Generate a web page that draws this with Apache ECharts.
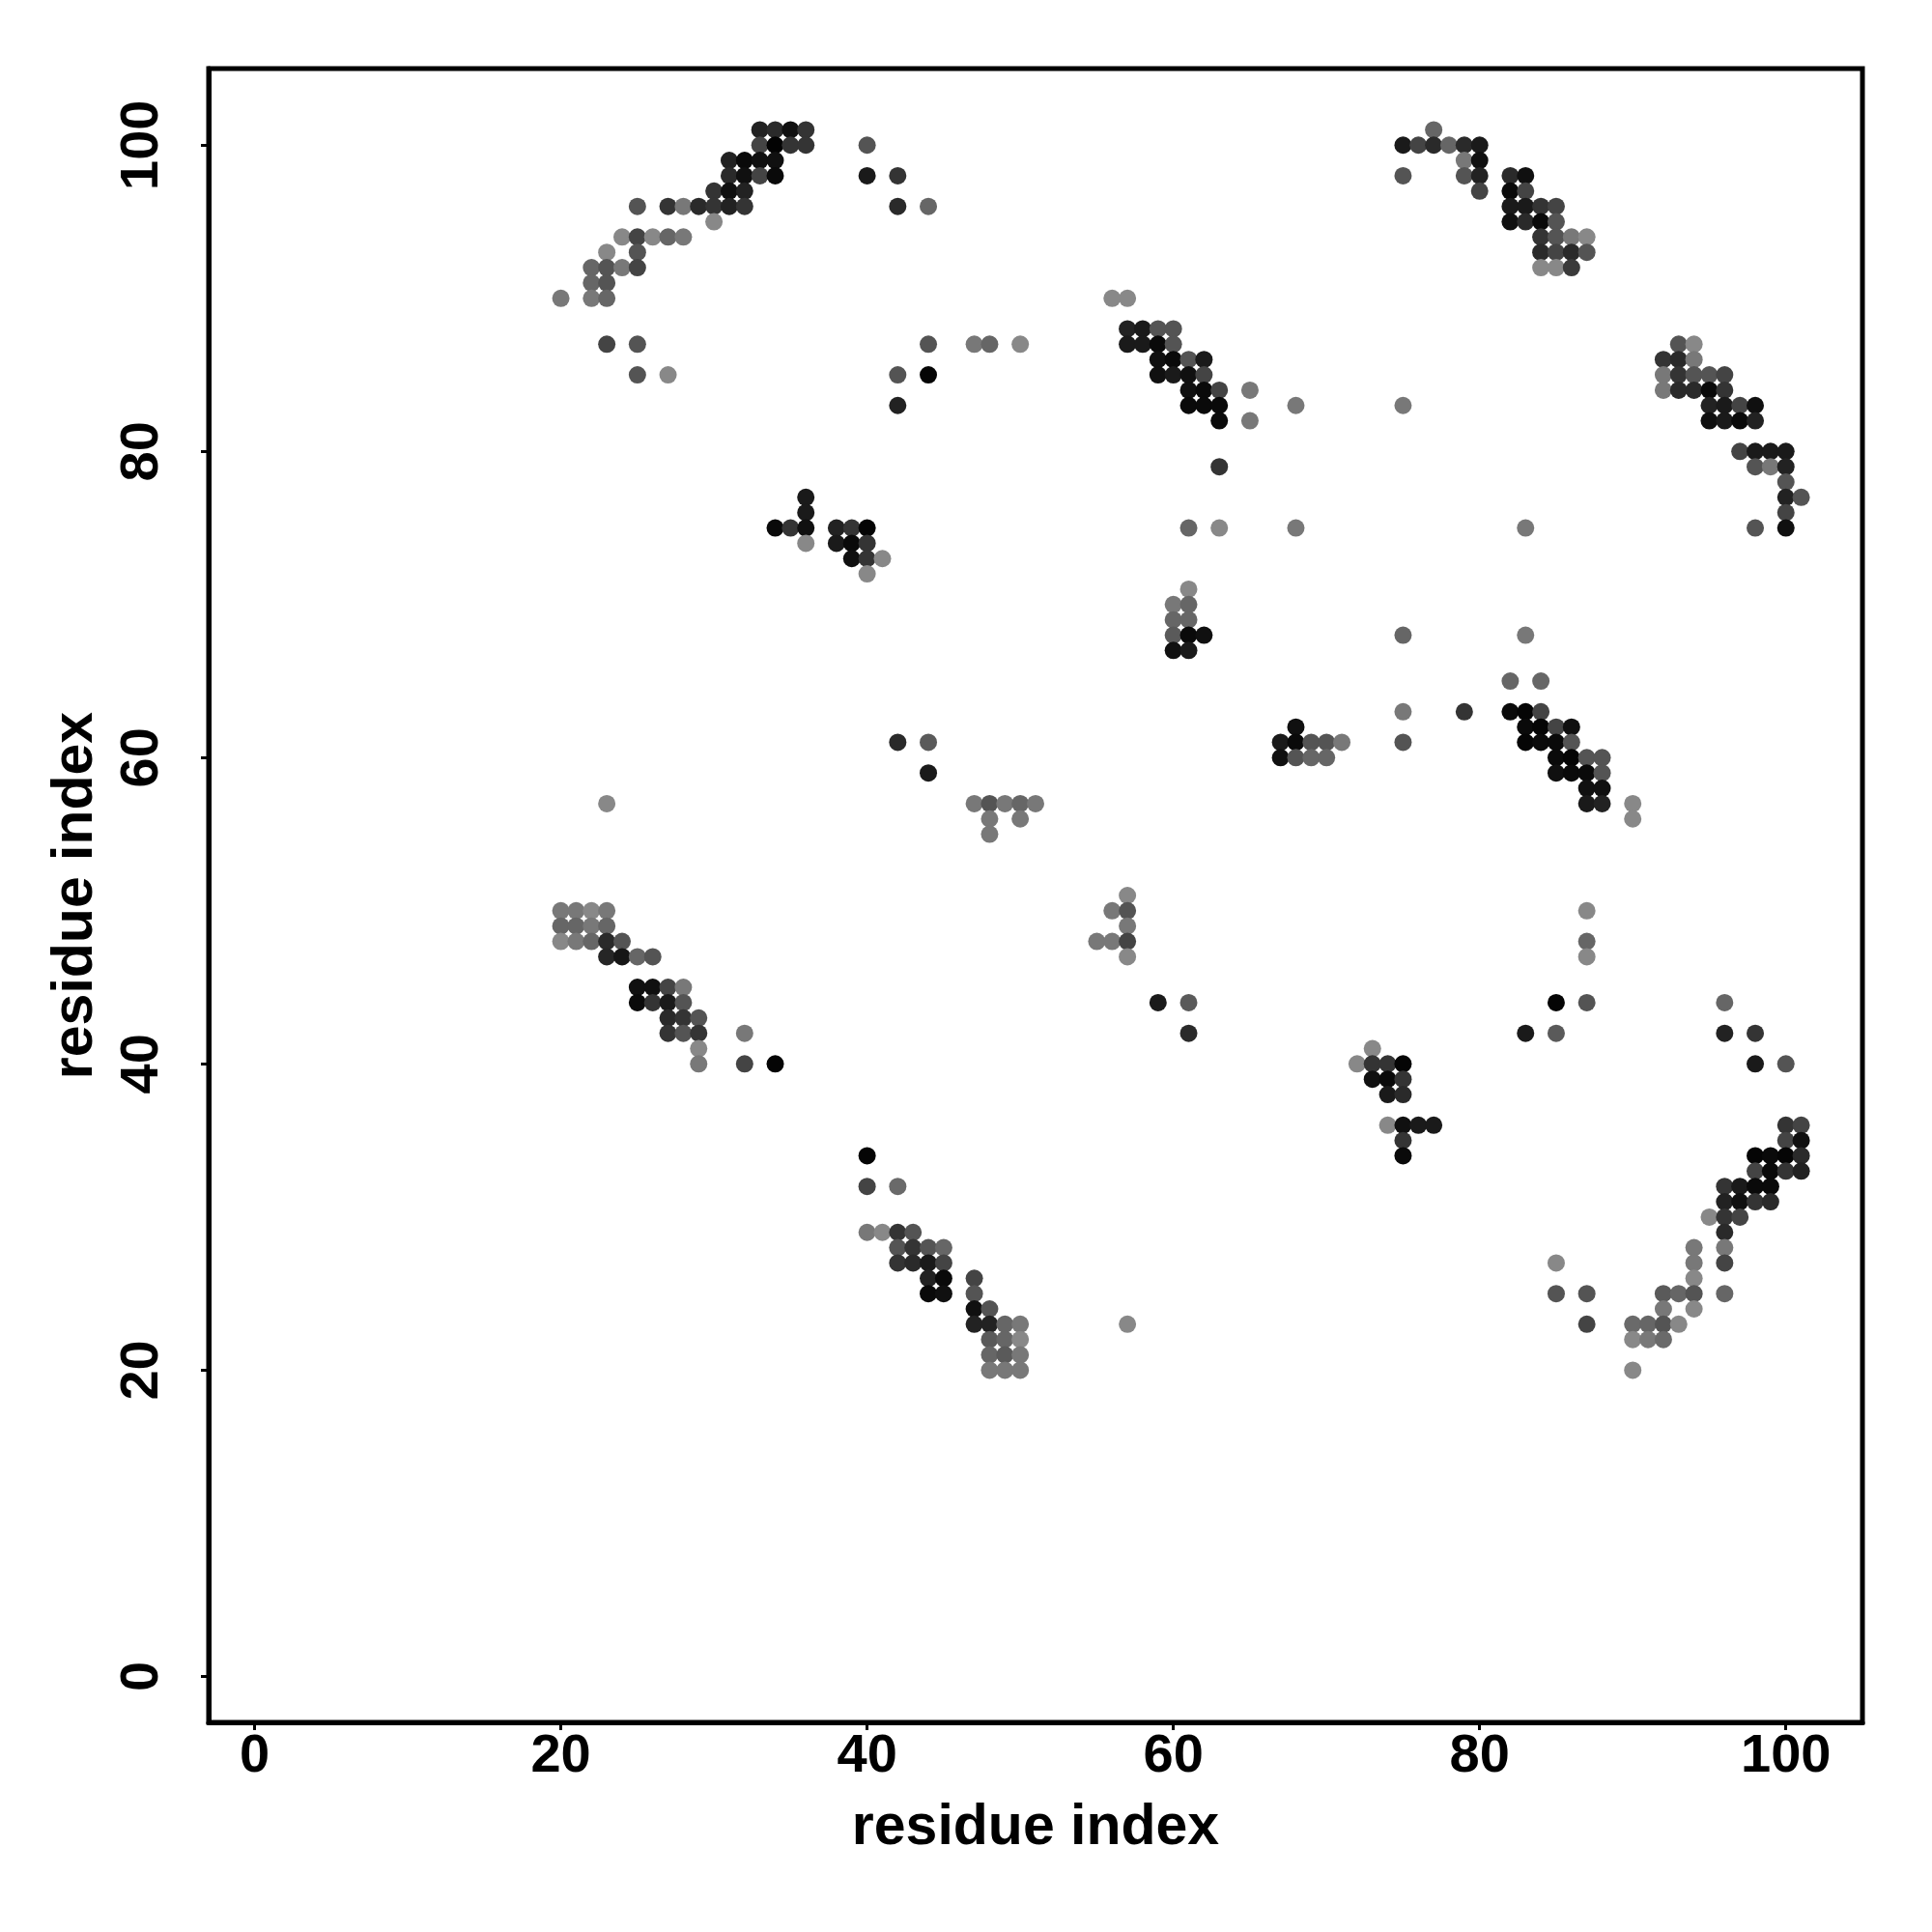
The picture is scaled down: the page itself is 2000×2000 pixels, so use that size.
<!DOCTYPE html>
<html>
<head>
<meta charset="utf-8">
<script src="https://cdn.jsdelivr.net/npm/echarts@6/dist/echarts.min.js"></script>
<style>
html,body{margin:0;padding:0;background:#fff;}
#chart{width:2000px;height:2000px;}
</style>
</head>
<body>
<div id="chart"></div>
<script>
// Contact map: each entry is [residue i, residue j, contact probability]
var tickValues = [0, 20, 40, 60, 80, 100];
var axisTitle = 'residue index';

var contactsTopLeft = [
  [33,101,.75],[34,101,.69],[35,101,.88],[36,101,.62],
  [33,100,.5],[34,100,.98],[35,100,.62],[36,100,.62],[40,100,.38],
  [31,99,.75],[32,99,.93],[33,99,.88],[34,99,.88],
  [31,98,.69],[32,98,.88],[33,98,.5],[34,98,.93],[40,98,.81],[42,98,.62],
  [30,97,.62],[31,97,.88],[32,97,.75],
  [25,96,.38],[27,96,.62],[28,96,.12],[29,96,.69],[30,96,.62],[31,96,.75],[32,96,.62],[42,96,.69],[44,96,.25],
  [30,95,0],
  [24,94,0],[25,94,.5],[26,94,0],[27,94,.25],[28,94,.12],
  [23,93,0],[25,93,.38],
  [22,92,.25],[23,92,.38],[24,92,.12],[25,92,.5],
  [22,91,.25],[23,91,.38],
  [20,90,.12],[22,90,.12],[23,90,.25],
  [23,87,.5],[25,87,.38],[44,87,.38],
  [25,85,.38],[27,85,0],[42,85,.38],[44,85,.96],
  [42,83,.75],
  [36,77,.81],[36,76,.81],
  [34,75,.93],[35,75,.62],[36,75,.88],[38,75,.75],[39,75,.62],[40,75,.96],
  [36,74,0],[38,74,.81],[39,74,.93],[40,74,.62],
  [39,73,.88],[40,73,.62],[41,73,0],
  [40,72,0]
];

var contactsTopMid = [
  [56,90,0],[57,90,0],
  [57,88,.75],[58,88,.81],[59,88,.38],[60,88,.38],
  [47,87,.12],[48,87,.25],[50,87,0],[57,87,.81],[58,87,.81],[59,87,.93],[60,87,.38],
  [59,86,.88],[60,86,.93],[61,86,.38],[62,86,.81],
  [59,85,.88],[60,85,.81],[61,85,.88],[62,85,.5],
  [61,84,.88],[62,84,.93],[63,84,.5],[65,84,.12],
  [61,83,.93],[62,83,.93],[63,83,.93],[68,83,.12],
  [63,82,.93],[65,82,.12],
  [63,79,.62],
  [61,75,.25],[63,75,0],[68,75,.12]
];

var contactsTopRight = [
  [77,101,.25],
  [75,100,.81],[76,100,.5],[77,100,.69],[78,100,.25],[79,100,.69],[80,100,.81],
  [79,99,.12],[80,99,.88],
  [75,98,.38],[79,98,.38],[80,98,.75],[82,98,.69],[83,98,.88],
  [80,97,.5],[82,97,.93],[83,97,.5],
  [82,96,.81],[83,96,.81],[84,96,.62],[85,96,.5],
  [82,95,.88],[83,95,.69],[84,95,.93],[85,95,.38],
  [84,94,.62],[85,94,.38],[86,94,.12],[87,94,0],
  [84,93,.69],[85,93,.5],[86,93,.69],[87,93,.38],
  [84,92,0],[85,92,0],[86,92,.57],
  [93,87,.38],[94,87,0],
  [92,86,.62],[93,86,.69],[94,86,.12],
  [92,85,.12],[93,85,.62],[94,85,.38],[95,85,.38],[96,85,.5],
  [92,84,.12],[93,84,.69],[94,84,.69],[95,84,.93],[96,84,.62],
  [75,83,.12],[95,83,.75],[96,83,.81],[97,83,.5],[98,83,.88],
  [95,82,.88],[96,82,.81],[97,82,.93],[98,82,.75],
  [97,80,.5],[98,80,.81],[99,80,.81],[100,80,.81],
  [98,79,.38],[99,79,.12],[100,79,.75],
  [100,78,.38],
  [100,77,.75],[101,77,.38],
  [100,76,.5],
  [83,75,.12],[98,75,.38],[100,75,.88]
];

var contactsMidLeft = [
  [42,61,.69],[44,61,.34],
  [44,59,.81],
  [23,57,0],
  [20,50,.12],[21,50,.12],[22,50,0],[23,50,.12],
  [20,49,.25],[21,49,.25],[22,49,.12],[23,49,.25],
  [20,48,0],[21,48,.12],[22,48,.25],[23,48,.69],[24,48,.38],
  [23,47,.72],[24,47,.84],[25,47,.25],[26,47,.38],
  [25,45,.88],[26,45,.88],[27,45,.5],[28,45,.12],
  [25,44,.93],[26,44,.62],[27,44,.81],[28,44,.38],
  [27,43,.69],[28,43,.62],[29,43,.38],
  [27,42,.62],[28,42,.38],[29,42,.62],[32,42,.12],
  [29,41,0],
  [29,40,.12],[32,40,.5],[34,40,.96]
];

var contactsMidCentre = [
  [61,71,0],
  [60,70,.12],[61,70,.25],
  [60,69,.25],[61,69,.25],
  [60,68,.34],[61,68,.93],[62,68,.88],
  [60,67,.88],[61,67,.81],
  [68,62,.88],
  [67,61,.81],[68,61,.93],[69,61,.38],[70,61,.38],[71,61,.12],
  [67,60,.88],[68,60,.38],[69,60,.25],[70,60,.25],
  [47,57,.12],[48,57,.38],[49,57,.12],[50,57,.25],[51,57,.12],
  [48,56,.12],[50,56,.12],
  [48,55,.12],
  [57,51,0],
  [56,50,.12],[57,50,.38],
  [57,49,.12],
  [55,48,.12],[56,48,.12],[57,48,.5],
  [57,47,0],
  [59,44,.81],[61,44,.34],
  [61,42,.69],
  [73,41,0],
  [72,40,0],[73,40,.62],
  [73,39,.88]
];

var contactsMidRight = [
  [75,68,.25],[83,68,.12],
  [82,65,.25],[84,65,.25],
  [75,63,.12],[79,63,.62],[82,63,.93],[83,63,.96],[84,63,.5],
  [83,62,.93],[84,62,.96],[85,62,.5],[86,62,.88],
  [75,61,.38],[83,61,.96],[84,61,.93],[85,61,.93],[86,61,.38],
  [85,60,.93],[86,60,.96],[87,60,.38],[88,60,.38],
  [85,59,.88],[86,59,.93],[87,59,.93],[88,59,.38],
  [87,58,.88],[88,58,.88],
  [87,57,.81],[88,57,.75],[90,57,0],
  [90,56,0],
  [87,50,0],[87,48,.25],[87,47,0],
  [85,44,.96],[87,44,.38],[96,44,.25],
  [83,42,.81],[85,42,.34],[96,42,.75],[98,42,.62],
  [74,40,.62],[75,40,.96],[98,40,.81],[100,40,.38],
  [74,39,.93],[75,39,.62],
  [74,38,.81],[75,38,.69],
  [74,36,0],[75,36,.88],[76,36,.81],[77,36,.81]
];

var contactsLowLeft = [
  [40,34,.96],
  [40,32,.5],[42,32,.22],
  [40,29,.12],[41,29,0],[42,29,.62],[43,29,.38],
  [42,28,.38],[43,28,.62],[44,28,.38],[45,28,.25],
  [42,27,.62],[43,27,.69],[44,27,.81],[45,27,.5],
  [44,26,.75],[45,26,.93],[47,26,.5],
  [44,25,.93],[45,25,.88],[47,25,.38],
  [47,24,.88],[48,24,.38],
  [47,23,.75],[48,23,.75],[49,23,.25],[50,23,.12],[57,23,0],
  [48,22,.34],[49,22,.25],[50,22,0],
  [48,21,.25],[49,21,.34],[50,21,.12],
  [48,20,.12],[49,20,.12],[50,20,.12]
];

var contactsLowRight = [
  [100,36,.62],[101,36,.5],
  [75,35,.62],[100,35,.5],[101,35,.88],
  [75,34,.93],[98,34,.96],[99,34,.93],[100,34,.96],[101,34,.69],
  [98,33,.5],[99,33,.93],[100,33,.62],[101,33,.75],
  [96,32,.62],[97,32,.81],[98,32,.93],[99,32,.93],
  [96,31,.75],[97,31,.88],[98,31,.62],[99,31,.69],
  [95,30,0],[96,30,.62],[97,30,.5],
  [96,29,.69],
  [94,28,.12],[96,28,.12],
  [85,27,0],[94,27,.12],[96,27,.5],
  [94,26,0],
  [85,25,.38],[87,25,.38],[92,25,.34],[93,25,.25],[94,25,.38],[96,25,.25],
  [92,24,.12],[94,24,0],
  [87,23,.5],[90,23,.22],[91,23,.25],[92,23,.38],[93,23,0],
  [90,22,0],[91,22,.12],[92,22,.22],
  [90,20,0]
];

var allContacts = [].concat(contactsTopLeft, contactsTopMid, contactsTopRight,
  contactsMidLeft, contactsMidCentre, contactsMidRight, contactsLowLeft, contactsLowRight);

var chart = echarts.init(document.getElementById('chart'), null, {renderer: 'canvas'});
var font = '"Liberation Sans", Arial, Helvetica, sans-serif';

function axisCfg(isY) {
  return {
    type: 'value',
    min: -3,
    max: 105,
    name: axisTitle,
    nameLocation: 'middle',
    nameGap: isY ? 108 : 80,
    nameTextStyle: {fontFamily: font, fontWeight: 'bold', fontSize: 59, color: '#000'},
    axisLine: {show: true, onZero: false, lineStyle: {color: '#000', width: 5}},
    axisTick: {show: true, customValues: tickValues, length: 8, lineStyle: {color: '#000', width: 3}},
    axisLabel: {
      show: true,
      customValues: tickValues,
      rotate: isY ? 90 : 0,
      margin: isY ? 40 : 8,
      fontFamily: font, fontWeight: 'bold', fontSize: 56, color: '#000'
    },
    splitLine: {show: false}
  };
}

chart.setOption({
  animation: false,
  backgroundColor: '#fff',
  grid: {left: 216, right: 72, top: 71, bottom: 217, show: true, borderColor: '#000', borderWidth: 5, backgroundColor: 'transparent'},
  xAxis: axisCfg(false),
  yAxis: axisCfg(true),
  visualMap: {
    show: false,
    type: 'continuous',
    dimension: 2,
    min: 0,
    max: 1,
    inRange: {color: ['#888888', '#000000']}
  },
  series: [{
    type: 'scatter',
    data: allContacts,
    symbol: 'circle',
    symbolSize: 18,
    itemStyle: {opacity: 1}
  }]
});
</script>
</body>
</html>
